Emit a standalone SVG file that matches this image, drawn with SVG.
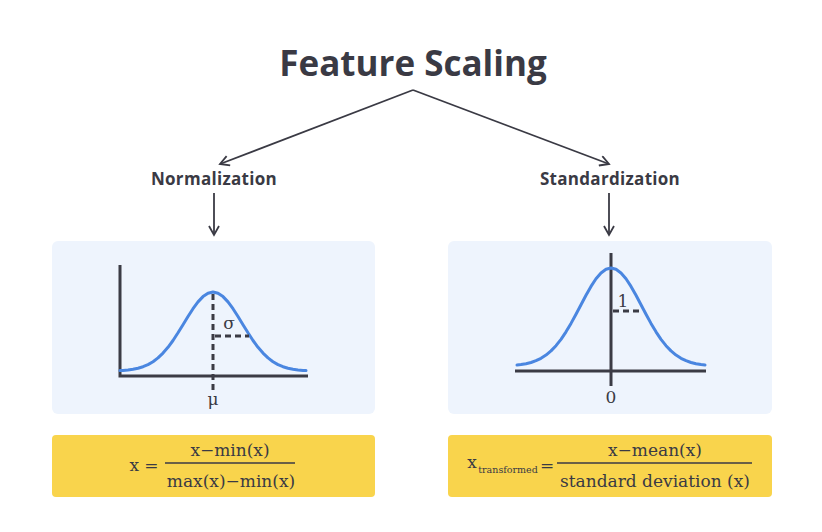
<svg xmlns="http://www.w3.org/2000/svg" width="822" height="532" viewBox="0 0 822 532">
<style>
.ttl{font-family:"Open Sans","Noto Sans",sans-serif;font-weight:700;fill:#3a3a44}
.lbl{font-family:"Open Sans","Noto Sans",sans-serif;font-weight:700;font-size:17px;letter-spacing:0.3px;fill:#3a3a44}
.conn{stroke:#3a3a44;stroke-width:1.8;fill:none}
.panel{fill:#eef4fd}
.fbox{fill:#f9d44c}
.axis{stroke:#3b3b45;stroke-width:3;fill:none}
.curve{stroke:#4a86e0;stroke-width:3;fill:none;stroke-linejoin:round;stroke-linecap:round}
.dash{stroke:#3b3b45;stroke-width:3;stroke-dasharray:6 4;fill:none}
.math{font-family:"DejaVu Serif","Liberation Serif",serif;font-size:17px;fill:#3a3a44}
.sub{font-family:"DejaVu Serif","Liberation Serif",serif;font-size:9.5px;fill:#3a3a44}
.bar{stroke:#3a3a44;stroke-width:1.3}
</style>
<defs>
<marker id="arr" viewBox="0 0 12 12" refX="10" refY="6" markerWidth="12" markerHeight="12" markerUnits="userSpaceOnUse" orient="auto">
<path d="M1,1 L10,6 L1,11" fill="none" stroke="#3a3a44" stroke-width="1.8"/>
</marker>
</defs>
<rect width="822" height="532" fill="#ffffff"/>
<g id="title"><text class="ttl" x="413" y="76" font-size="35" text-anchor="middle">Feature Scaling</text></g>
<g id="connectors">
<line class="conn" x1="413" y1="90" x2="220" y2="164" marker-end="url(#arr)"/>
<line class="conn" x1="413" y1="90" x2="609" y2="164" marker-end="url(#arr)"/>
<line class="conn" x1="214" y1="193" x2="214" y2="235" marker-end="url(#arr)"/>
<line class="conn" x1="609" y1="193" x2="609" y2="235" marker-end="url(#arr)"/>
</g>
<g id="normalization"><text class="lbl" x="214" y="185" text-anchor="middle">Normalization</text></g>
<g id="standardization"><text class="lbl" x="610" y="185" text-anchor="middle">Standardization</text></g>
<g id="norm-chart">
<rect class="panel" x="52" y="241" width="323" height="173" rx="6"/>
<path class="axis" d="M120,265 V376 H308"/>
<path class="curve" d="M120,370.6 L123,370.4 L128,369.9 L133,369.2 L138,368.2 L143,366.7 L148,364.6 L153,361.7 L158,357.9 L163,353.1 L168,347.3 L173,340.5 L178,332.8 L183,324.7 L188,316.5 L193,308.7 L198,301.9 L203,296.6 L208,293.2 L213,292 L218,293.2 L223,296.6 L228,301.9 L233,308.7 L238,316.5 L243,324.7 L248,332.8 L253,340.5 L258,347.3 L263,353.1 L268,357.9 L273,361.7 L278,364.6 L283,366.7 L288,368.2 L293,369.2 L298,369.9 L303,370.4 L306,370.6"/>
<line class="dash" x1="213" y1="294" x2="213" y2="391"/>
<line class="dash" x1="215" y1="336" x2="249" y2="336"/>
<text class="math" x="229" y="329" text-anchor="middle">σ</text>
<text class="math" x="213" y="405" text-anchor="middle">μ</text>
</g>
<g id="std-chart">
<rect class="panel" x="448" y="241" width="324" height="173" rx="6"/>
<line class="axis" x1="611" y1="253" x2="611" y2="386"/>
<line class="axis" x1="515" y1="371" x2="706" y2="371"/>
<path class="curve" d="M517,365 L521,364.6 L526,363.7 L531,362.5 L536,360.7 L541,358.3 L546,355.1 L551,350.9 L556,345.7 L561,339.3 L566,331.8 L571,323.4 L576,314.2 L581,304.7 L586,295.2 L591,286.4 L596,278.8 L601,273 L606,269.3 L611,268 L616,269.3 L621,273 L626,278.8 L631,286.4 L636,295.2 L641,304.7 L646,314.2 L651,323.4 L656,331.8 L661,339.3 L666,345.7 L671,350.9 L676,355.1 L681,358.3 L686,360.7 L691,362.5 L696,363.7 L701,364.6 L705,365"/>
<line class="dash" x1="613" y1="311" x2="643" y2="311"/>
<text class="math" x="623" y="307" text-anchor="middle">1</text>
<text class="math" x="611" y="403" text-anchor="middle">0</text>
</g>
<g id="norm-formula">
<rect class="fbox" x="52" y="435" width="323" height="62" rx="4"/>
<text class="math" x="144" y="471" text-anchor="middle">x =</text>
<text class="math" x="230" y="456" text-anchor="middle">x−min(x)</text>
<line class="bar" x1="165" y1="463" x2="295" y2="463"/>
<text class="math" x="231" y="487" text-anchor="middle">max(x)−min(x)</text>
</g>
<g id="std-formula">
<rect class="fbox" x="448" y="435" width="324" height="62" rx="4"/>
<text class="math" x="472" y="468" text-anchor="middle">x</text>
<text class="sub" x="508" y="473" text-anchor="middle">transformed</text>
<text class="math" x="547" y="471" text-anchor="middle">=</text>
<line class="bar" x1="557" y1="463" x2="752" y2="463"/>
<text class="math" x="655" y="456" text-anchor="middle">x−mean(x)</text>
<text class="math" x="655" y="487" text-anchor="middle">standard deviation (x)</text>
</g>
</svg>
